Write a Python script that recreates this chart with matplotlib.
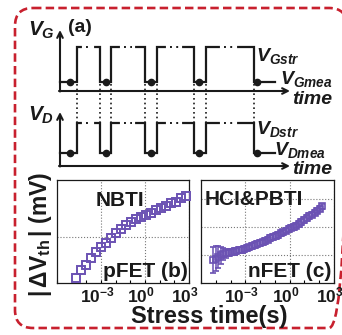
import numpy as np
import matplotlib
matplotlib.use("Agg")
import matplotlib.pyplot as plt
from matplotlib.patches import FancyBboxPatch
from matplotlib.transforms import ScaledTranslation

plt.rcParams['font.family'] = ['Liberation Sans', 'DejaVu Sans']
plt.rcParams['font.weight'] = 'bold'
plt.rcParams['mathtext.fontset'] = 'custom'
plt.rcParams['mathtext.it'] = 'Liberation Sans:bold:italic'
plt.rcParams['mathtext.rm'] = 'Liberation Sans:bold'
plt.rcParams['mathtext.bf'] = 'Liberation Sans:bold'

PURPLE = '#6b52b3'
INK = '#1a1a1a'

# pulse waveform (x of each edge, in panel pixels)
edges = [77, 100, 111, 145, 157, 194, 206, 254]
wave_start, wave_end = 60, 275
meas_dots = [70, 106, 151, 199, 257]
# dotted breaks inside each high (stress) phase
breaks = [(84, 92), (122, 133), (168, 180), (222, 235)]

# (b) pFET NBTI
t_nbti = [2.0e-5, 4.5e-5, 1.0e-4, 2.1e-4, 4.7e-4, 1.0e-3, 2.2e-3, 4.9e-3,
          1.1e-2, 2.3e-2, 5.1e-2, 0.11, 0.25, 0.54, 1.2, 2.6, 5.8, 12.6,
          27.5, 60.0, 132.0, 288.0, 630.0]
dvth_nbti = [2.2, 5.7, 7.9, 10.9, 13.5, 15.7, 17.5, 19.7, 21.8, 23.6, 25.3,
             26.7, 28.0, 28.8, 29.7, 30.6, 31.9, 32.8, 33.6, 35.0, 35.4,
             37.1, 38.0]

# (c) nFET HCI & PBTI
t_hci = [7e-6, 1e-5, 1.5e-5, 2.2e-5, 3.3e-5, 5e-5, 7.5e-5, 1.1e-4, 1.7e-4,
         2.5e-4, 3.8e-4, 5.7e-4, 8.5e-4, 1.3e-3, 1.9e-3, 2.9e-3, 4.3e-3,
         6.5e-3, 9.7e-3, 1.5e-2, 2.2e-2, 3.3e-2, 4.9e-2, 7.4e-2, 0.11, 0.17,
         0.25, 0.37, 0.56, 0.84, 1.3, 1.9, 2.8, 4.2, 6.3, 9.5, 14, 21, 32,
         48, 72, 108, 160]
dvth_hci = [0.83, 0.88, 0.93, 0.99, 1.04, 1.06, 1.09, 1.11, 1.13, 1.15,
            1.17, 1.20, 1.22, 1.25, 1.28, 1.32, 1.36, 1.40, 1.43, 1.46,
            1.50, 1.56, 1.61, 1.65, 1.69, 1.73, 1.78, 1.82, 1.88, 1.94,
            1.99, 2.02, 2.06, 2.11, 2.19, 2.26, 2.33, 2.40, 2.46, 2.53,
            2.60, 2.67, 2.75]
err_hci = [0.47, 0.46, 0.40, 0.30, 0.20, 0.15, 0.13, 0.12, 0.12, 0.11,
           0.11, 0.11, 0.11, 0.11, 0.10, 0.10, 0.10, 0.10, 0.10, 0.10,
           0.10, 0.10, 0.10, 0.10, 0.10, 0.10, 0.10, 0.10, 0.10, 0.10,
           0.10, 0.10, 0.10, 0.10, 0.10, 0.10, 0.10, 0.10, 0.10, 0.10,
           0.10, 0.10, 0.10]

xtick_vals = [1e-3, 1e0, 1e3]
xtick_labels = [r'$10^{-3}$', r'$10^{0}$', r'$10^{3}$']
decades = [10.0 ** k for k in range(-6, 4)]

W, H = 342, 335
fig = plt.figure(figsize=(W / 100, H / 100), dpi=100)

# overlay in pixel coordinates for the schematic and frame
ax0 = fig.add_axes([0, 0, 1, 1])
ax0.set_xlim(0, W)
ax0.set_ylim(H, 0)
ax0.axis('off')

frame = FancyBboxPatch((15, 8), 332, 320,
                       boxstyle='round,pad=0,rounding_size=18',
                       fill=False, ec='#c8202e', lw=1.9, ls=(0, (3.2, 1.6)))
ax0.add_patch(frame)


def draw_wave(ax, hi, lo, axis_y, top_y):
    # axes with arrows
    ax.annotate('', xy=(290, axis_y), xytext=(59, axis_y),
                arrowprops=dict(arrowstyle='->', lw=1.5, color=INK,
                                shrinkA=0, shrinkB=0, mutation_scale=10))
    ax.annotate('', xy=(60, top_y), xytext=(60, axis_y + 0.5),
                arrowprops=dict(arrowstyle='->', lw=1.5, color=INK,
                                shrinkA=0, shrinkB=0, mutation_scale=10))
    xs = [wave_start]
    ys = [lo]
    level = lo
    for e in edges:
        xs += [e, e]
        ys += [level, hi if level == lo else lo]
        level = hi if level == lo else lo
    xs.append(wave_end)
    ys.append(level)
    ax.plot(xs, ys, color=INK, lw=1.6, solid_joinstyle='miter')
    # blank out the breaks and dot them
    for b0, b1 in breaks:
        ax.plot([b0, b1], [hi, hi], color='white', lw=3)
        ax.plot([b0 + 1.5, b1 - 1.5], [hi, hi], color=INK, lw=1.4, ls=(0, (1, 2.2)))
    ax.plot(meas_dots, [lo] * len(meas_dots), 'o', color=INK, ms=4.5)


draw_wave(ax0, 47, 82, 91, 30)
draw_wave(ax0, 123, 153, 166, 112)

# dotted guides between the two waveforms
for e in edges:
    ax0.plot([e, e], [84, 122], color=INK, lw=1.2, ls=(0, (1, 1.8)))

tkw = dict(color=INK, va='center', ha='left')
ax0.text(28, 30, r'$V_G$', fontsize=15, **tkw)
ax0.text(68, 28, '(a)', fontsize=14, **tkw)
ax0.text(256, 56, r'$V_{Gstr}$', fontsize=14, **tkw)
ax0.text(280, 79, r'$V_{Gmea}$', fontsize=14, **tkw)
ax0.text(292, 99, 'time', fontsize=14, style='italic', **tkw)
ax0.text(28, 115, r'$V_D$', fontsize=15, **tkw)
ax0.text(256, 129, r'$V_{Dstr}$', fontsize=14, **tkw)
ax0.text(274, 150, r'$V_{Dmea}$', fontsize=14, **tkw)
ax0.text(292, 170, 'time', fontsize=14, style='italic', **tkw)

ax0.text(41, 234, r'$|\,\Delta\mathrm{V}_{\mathrm{th}}\,|$ (mV)', fontsize=16.5,
         rotation=90, ha='center', va='center', color=INK)
ax0.text(209, 316, 'Stress time(s)', fontsize=17, ha='center', va='center',
         color=INK)


def setup_panel(ax, ylim, yticks):
    ax.set_xscale('log')
    ax.set_xlim(1e-6, 1e3)
    ax.set_ylim(*ylim)
    ax.set_xticks(xtick_vals)
    ax.set_xticklabels(xtick_labels, fontsize=12.5, color=INK)
    ax.set_xticks(decades, minor=True)
    ax.set_xticklabels([], minor=True)
    ax.set_yticks(yticks)
    ax.set_yticklabels([])
    ax.tick_params(which='both', direction='in', length=2.5, width=0.8,
                   pad=2, left=False)
    ax.grid(True, which='major', color='#777777', ls=':', lw=0.8)
    for lab in ax.get_xticklabels():
        lab.set_transform(lab.get_transform() +
                          ScaledTranslation(-4 / 100, 0, fig.dpi_scale_trans))
    for s in ax.spines.values():
        s.set_linewidth(0.9)
        s.set_color(INK)


axb = fig.add_axes([57 / W, (H - 283) / H, 132 / W, 103 / H])
setup_panel(axb, (0, 45), [20])
axb.plot(t_nbti, dvth_nbti, 's', mfc='none', mec=PURPLE, mew=1.4, ms=6,
         clip_on=False, zorder=3)
axb.text(0.29, 0.80, 'NBTI', transform=axb.transAxes, fontsize=15, color=INK,
         ha='left', va='center')
axb.text(0.995, 0.11, 'pFET (b)', transform=axb.transAxes, fontsize=15,
         color=INK, ha='right', va='center')

axc = fig.add_axes([201 / W, (H - 283) / H, 133 / W, 103 / H])
setup_panel(axc, (0, 3.7), [1, 2, 3])
axc.errorbar(t_hci, dvth_hci, yerr=err_hci, fmt='s', mfc='none', mec=PURPLE,
             ecolor=PURPLE, mew=1.2, ms=4.5, elinewidth=1.1, capsize=2.5,
             zorder=3)
axc.text(0.03, 0.81, 'HCI&PBTI', transform=axc.transAxes, fontsize=15,
         color=INK, ha='left', va='center')
axc.text(0.98, 0.11, 'nFET (c)', transform=axc.transAxes, fontsize=15,
         color=INK, ha='right', va='center')

fig.savefig('out.png', dpi=100)
